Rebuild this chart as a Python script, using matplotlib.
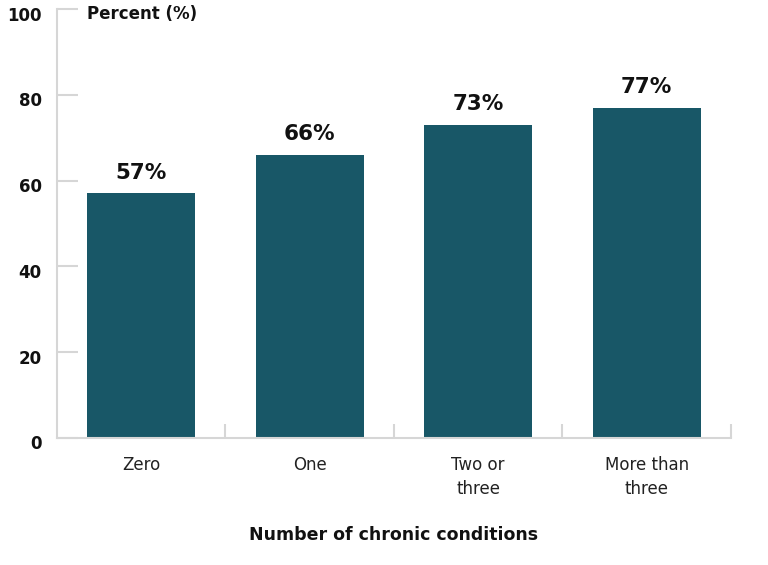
import numpy as np
import matplotlib
matplotlib.use("Agg")
import matplotlib.pyplot as plt
from matplotlib.transforms import ScaledTranslation

categories = ["Zero", "One", "Two or\nthree", "More than\nthree"]
values = [57, 66, 73, 77]
yticks = [0, 20, 40, 60, 80, 100]

bar_color = "#185767"
axis_gray = "#d6d6d6"
plt.rcParams['font.family'] = ['DejaVu Sans']

fig = plt.figure(figsize=(7.68, 5.65), dpi=100)
ax = fig.add_axes([0.0742, 0.2248, 0.8776, 0.7592])

x = np.arange(len(categories))
ax.bar(x, values, width=0.64, color=bar_color, zorder=2)

for xi, v in zip(x, values):
    ax.text(xi, v + 2.5, f"{v}%", ha="center", va="bottom",
            fontsize=15.5, fontweight="bold", color="#111111")

ax.set_xlim(-0.5, len(categories) - 0.5)
ax.set_ylim(0, 100)

for side in ["top", "right"]:
    ax.spines[side].set_visible(False)
for side in ["left", "bottom"]:
    ax.spines[side].set_color(axis_gray)
    ax.spines[side].set_linewidth(1.5)

ax.set_yticks(yticks)
ax.set_yticklabels([str(t) for t in yticks], fontsize=12, fontweight="bold", color="#111111")
ax.tick_params(axis="y", direction="in", length=15, width=1.5, color=axis_gray, pad=11)
shift = ScaledTranslation(0, -0.045, fig.dpi_scale_trans)
for lab in ax.get_yticklabels():
    lab.set_transform(lab.get_transform() + shift)

# category ticks at boundaries between bars
ax.set_xticks(x + 0.5, minor=False)
ax.set_xticklabels([])
ax.tick_params(axis="x", direction="in", length=10, width=1.5, color=axis_gray)
for xi, lab in zip(x, categories):
    ax.text(xi, -4.2, lab, ha="center", va="top", fontsize=12, color="#222222",
            linespacing=1.4)

ax.text(0.045, 98.8, "Percent (%)", transform=ax.get_yaxis_transform(),
        ha="left", va="center", fontsize=12, fontweight="bold", color="#111111")
ax.text(0.5, -0.225, "Number of chronic conditions", transform=ax.transAxes,
        ha="center", va="center", fontsize=12.5, fontweight="bold", color="#111111")

fig.savefig("out.png", dpi=100, facecolor="white")
